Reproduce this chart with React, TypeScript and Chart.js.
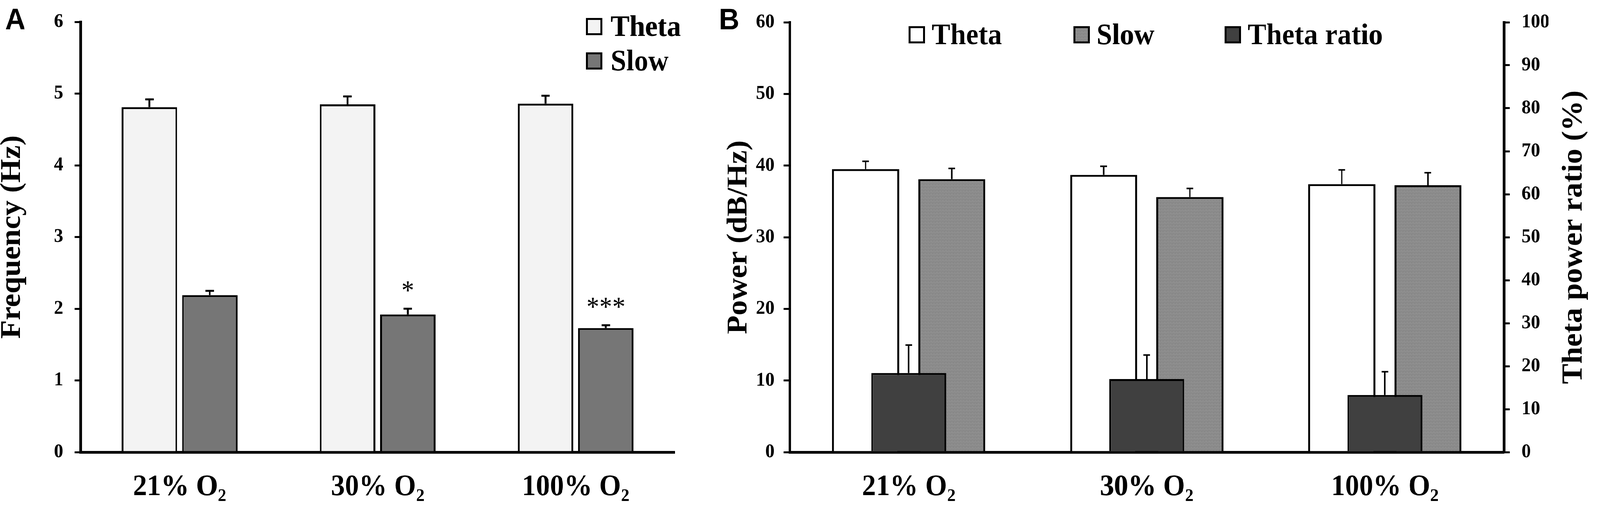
import { useEffect, useRef } from "react";
import { Chart, registerables } from "chart.js";

Chart.register(...registerables);

// ---- data ----
const groups = ["21% O₂", "30% O₂", "100% O₂"];

// A: peak frequency (Hz)
const freqTheta = [4.81, 4.85, 4.86];
const freqThetaErr = [0.11, 0.11, 0.11];
const freqSlow = [2.19, 1.92, 1.73];
const freqSlowErr = [0.06, 0.08, 0.04];
const freqSlowMarks = ["", "*", "***"];
const freqAxis = [0, 6, 1]; // min, max, step

// B: power (dB/Hz) and theta power ratio (%)
const powerTheta = [39.5, 38.7, 37.4];
const powerThetaErr = [1.1, 1.2, 2.0];
const powerSlow = [38.1, 35.6, 37.25];
const powerSlowErr = [1.5, 1.2, 1.75];
const thetaRatio = [18.4, 17.0, 13.3];
const thetaRatioErr = [6.5, 5.6, 5.4];
const powerAxis = [0, 60, 10];
const ratioAxis = [0, 100, 10];

const SERIF = "'Liberation Serif', 'Times New Roman', 'DejaVu Serif', serif";
const SANS = "'Liberation Sans', Arial, 'DejaVu Sans', sans-serif";
const INK = "#000";
// the figure is laid out at this size, then fitted to the window
const PAGE_W = 4328;
const PAGE_H = 1323;

// speckled mid-grey fill used for the slow bars in panel B
function speckle(): CanvasPattern | string {
  const tile = document.createElement("canvas");
  tile.width = 8;
  tile.height = 8;
  const c = tile.getContext("2d");
  if (!c) return "#8d8d8d";
  for (let i = 0; i < 64; i++) {
    const v = 140 + ((i * 73 + (i >> 3) * 37) % 29) - 14;
    c.fillStyle = `rgb(${v},${v},${v})`;
    c.fillRect(i % 8, i >> 3, 1, 1);
  }
  return c.createPattern(tile, "repeat") ?? "#8d8d8d";
}

// error bars (upper half only) + significance marks
function errorBars(
  errors: (number[] | null)[],
  marks: (string[] | null)[],
  lineWidth: number,
  cap: number
) {
  return {
    id: "errorBars",
    afterDatasetsDraw(chart: any) {
      const { ctx } = chart;
      ctx.save();
      ctx.strokeStyle = INK;
      ctx.fillStyle = INK;
      ctx.lineWidth = lineWidth;
      chart.data.datasets.forEach((ds: any, i: number) => {
        const errs = errors[i];
        if (!errs) return;
        const meta = chart.getDatasetMeta(i);
        const yScale = chart.scales[meta.yAxisID];
        meta.data.forEach((bar: any, j: number) => {
          const top = yScale.getPixelForValue(ds.data[j] + errs[j]);
          ctx.beginPath();
          ctx.moveTo(bar.x, bar.y);
          ctx.lineTo(bar.x, top);
          ctx.moveTo(bar.x - cap / 2, top);
          ctx.lineTo(bar.x + cap / 2, top);
          ctx.stroke();
          const mark = marks[i]?.[j];
          if (mark) {
            ctx.font = `normal 70px ${SERIF}`;
            ctx.textAlign = "center";
            ctx.textBaseline = "alphabetic";
            ctx.fillText(mark, bar.x, top - 24);
          }
        });
      });
      ctx.restore();
    },
  };
}

// square-box legend drawn inside the plot
function boxLegend(spots: { x: number; y: number }[], gap: number) {
  return {
    id: "boxLegend",
    afterDraw(chart: any) {
      const { ctx } = chart;
      const size = 44;
      ctx.save();
      ctx.font = `bold 76px ${SERIF}`;
      ctx.textAlign = "left";
      ctx.textBaseline = "alphabetic";
      chart.data.datasets.forEach((ds: any, i: number) => {
        const p = spots[i];
        if (!p) return;
        const top = p.y - 2 - size;
        ctx.fillStyle = ds.backgroundColor;
        ctx.fillRect(p.x, top, size, size);
        ctx.strokeStyle = INK;
        ctx.lineWidth = 5;
        ctx.strokeRect(p.x + 2.5, top + 2.5, size - 5, size - 5);
        ctx.fillStyle = INK;
        ctx.fillText(ds.label, p.x + gap, p.y);
      });
      ctx.restore();
    },
  };
}

function panelLetter(letter: string, x: number, baseline: number) {
  return {
    id: "panelLetter",
    afterDraw(chart: any) {
      const { ctx } = chart;
      ctx.save();
      ctx.font = `bold 76px ${SANS}`;
      ctx.fillStyle = INK;
      ctx.textAlign = "left";
      ctx.textBaseline = "alphabetic";
      ctx.fillText(letter, x, baseline);
      ctx.restore();
    },
  };
}

// right-hand title reading bottom-to-top, like the left one
function rightTitle(text: string, offset: number) {
  return {
    id: "rightTitle",
    afterDraw(chart: any) {
      const { ctx, chartArea } = chart;
      ctx.save();
      ctx.translate(chartArea.right + offset, (chartArea.top + chartArea.bottom) / 2);
      ctx.rotate(-Math.PI / 2);
      ctx.font = `bold 78px ${SERIF}`;
      ctx.fillStyle = INK;
      ctx.textAlign = "center";
      ctx.textBaseline = "middle";
      ctx.fillText(text, 0, 0);
      ctx.restore();
    },
  };
}

const tickFont = { family: SERIF, size: 50, weight: "bold" as const, lineHeight: 1 };
const labelFont = { family: SERIF, size: 76, weight: "bold" as const };

function xAxis() {
  return {
    grid: { display: false, drawTicks: false },
    border: { display: true, color: INK, width: 7 },
    ticks: { color: INK, font: labelFont, padding: 45 },
    afterFit: (s: any) => {
      s.height = 166;
    },
  };
}

function FrequencyChart() {
  const chartRef = useRef<HTMLCanvasElement>(null);
  const chartInstance = useRef<Chart | null>(null);

  useEffect(() => {
    if (!chartRef.current) return;
    if (chartInstance.current) chartInstance.current.destroy();

    chartInstance.current = new Chart(chartRef.current, {
      type: "bar",
      data: {
        labels: groups,
        datasets: [
          { label: "Theta", data: freqTheta, backgroundColor: "#f3f3f3", borderColor: INK, borderWidth: 5 },
          { label: "Slow", data: freqSlow, backgroundColor: "#767676", borderColor: INK, borderWidth: 5 },
        ],
      },
      options: {
        responsive: false,
        animation: false,
        devicePixelRatio: 1,
        layout: { padding: { top: 29, right: 75, bottom: 0, left: 0 } },
        datasets: { bar: { categoryPercentage: 0.609, barPercentage: 0.92 } },
        plugins: { legend: { display: false }, tooltip: { enabled: false } },
        scales: {
          x: xAxis() as any,
          y: {
            min: freqAxis[0],
            max: freqAxis[1],
            ticks: { stepSize: freqAxis[2], color: INK, font: tickFont, padding: 31 },
            grid: { drawOnChartArea: false, color: INK, lineWidth: 5, tickLength: 16 },
            border: { display: true, color: INK, width: 7 },
            title: {
              display: true,
              text: "Frequency (Hz)",
              color: INK,
              font: { family: SERIF, size: 78, weight: "bold", lineHeight: 0.87 },
              padding: 0,
            },
            afterFit: (s: any) => {
              s.width = 218;
            },
          },
        },
      },
      plugins: [
        errorBars([freqThetaErr, freqSlowErr], [null, freqSlowMarks], 5, 23),
        boxLegend([{ x: 1585, y: 92 }, { x: 1585, y: 180 }], 67),
        panelLetter("A", 14, 75),
      ],
    });

    return () => {
      if (chartInstance.current) {
        chartInstance.current.destroy();
        chartInstance.current = null;
      }
    };
  }, []);

  return (
    <canvas
      ref={chartRef}
      width={1900}
      height={1323}
      style={{ position: "absolute", left: 0, top: 0, width: 1900, height: 1323 }}
    />
  );
}

function PowerChart() {
  const chartRef = useRef<HTMLCanvasElement>(null);
  const chartInstance = useRef<Chart | null>(null);

  useEffect(() => {
    if (!chartRef.current) return;
    if (chartInstance.current) chartInstance.current.destroy();

    chartInstance.current = new Chart(chartRef.current, {
      type: "bar",
      data: {
        labels: groups,
        datasets: [
          { label: "Theta", data: powerTheta, backgroundColor: "#ffffff", borderColor: INK, borderWidth: 5, yAxisID: "y" },
          { label: "Slow", data: powerSlow, backgroundColor: speckle() as any, borderColor: INK, borderWidth: 5, yAxisID: "y" },
          {
            label: "Theta ratio",
            data: thetaRatio,
            backgroundColor: "#404040",
            borderColor: INK,
            borderWidth: 5,
            yAxisID: "y1",
            grouped: false,
            order: -1,
            categoryPercentage: 1,
            barPercentage: 0.315,
          },
        ],
      },
      options: {
        responsive: false,
        animation: false,
        devicePixelRatio: 1,
        layout: { padding: { top: 27, right: 0, bottom: 0, left: 0 } },
        datasets: { bar: { categoryPercentage: 0.724, barPercentage: 0.777 } },
        plugins: { legend: { display: false }, tooltip: { enabled: false } },
        scales: {
          x: xAxis() as any,
          y: {
            position: "left",
            min: powerAxis[0],
            max: powerAxis[1],
            ticks: { stepSize: powerAxis[2], color: INK, font: tickFont, padding: 25 },
            grid: { drawOnChartArea: false, color: INK, lineWidth: 5, tickLength: 16 },
            border: { display: true, color: INK, width: 7 },
            title: {
              display: true,
              text: "Power (dB/Hz)",
              color: INK,
              font: { family: SERIF, size: 78, weight: "bold" },
              padding: { top: 52, bottom: 0 },
            },
            afterFit: (s: any) => {
              s.width = 236;
            },
          },
          y1: {
            position: "right",
            min: ratioAxis[0],
            max: ratioAxis[1],
            ticks: { stepSize: ratioAxis[2], color: INK, font: tickFont, padding: 32 },
            grid: { drawOnChartArea: false, color: INK, lineWidth: 5, tickLength: 16 },
            border: { display: true, color: INK, width: 7 },
            afterFit: (s: any) => {
              s.width = 260;
            },
          },
        },
      },
      plugins: [
        errorBars([powerThetaErr, powerSlowErr, thetaRatioErr], [], 4, 18),
        boxLegend(
          [
            { x: 558, y: 113 },
            { x: 1004, y: 113 },
            { x: 1413, y: 113 },
          ],
          62
        ),
        panelLetter("B", 45, 75),
        rightTitle("Theta power ratio (%)", 190),
      ],
    });

    return () => {
      if (chartInstance.current) {
        chartInstance.current.destroy();
        chartInstance.current = null;
      }
    };
  }, []);

  return (
    <canvas
      ref={chartRef}
      width={2428}
      height={1323}
      style={{ position: "absolute", left: 1900, top: 0, width: 2428, height: 1323 }}
    />
  );
}

export default function App() {
  // the window can be narrower than the figure; fit the figure into it
  const sx = window.innerWidth / PAGE_W;
  const sy = window.innerHeight / PAGE_H;
  return (
    <div
      style={{
        position: "fixed",
        left: 0,
        top: 0,
        width: PAGE_W,
        height: PAGE_H,
        background: "#fff",
        transform: `scale(${sx}, ${sy})`,
        transformOrigin: "0 0",
      }}
    >
      <FrequencyChart />
      <PowerChart />
    </div>
  );
}
